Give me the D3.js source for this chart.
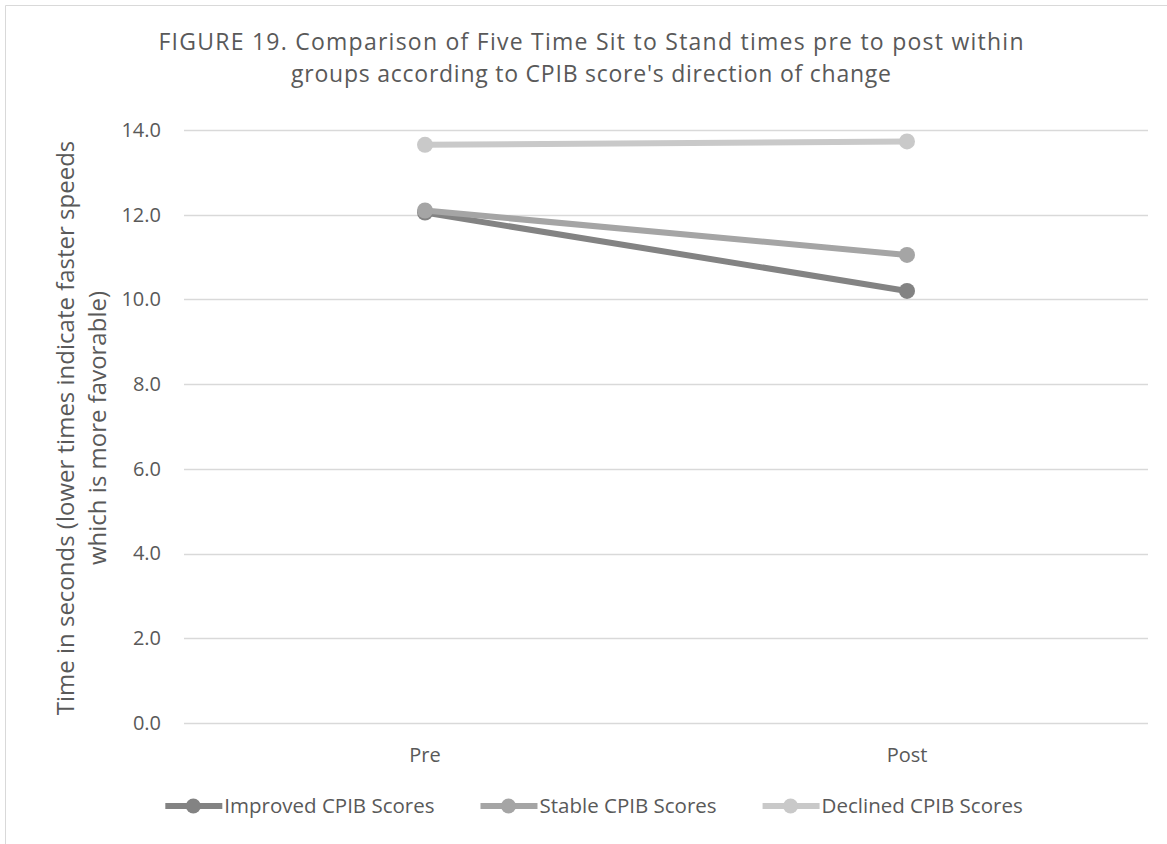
<!DOCTYPE html>
<html lang="en">
<head>
    <meta charset="UTF-8">
    <title>Figure 19</title>
    <script src="https://cdn.jsdelivr.net/npm/d3@7"></script>
    <style>
        body { margin: 0; background: #fff; }
        text { font-family: "Open Sans", "Noto Sans", sans-serif; }
    </style>
</head>
<body>
<svg width="1167" height="844"></svg>
<script>

    // chart data
    var categories = ["Pre", "Post"];
    var seriesNames = ["Improved CPIB Scores", "Stable CPIB Scores", "Declined CPIB Scores"];
    var improved = [12.05, 10.2];
    var stable = [12.1, 11.05];
    var declined = [13.65, 13.73];
    var yTicks = [0, 2, 4, 6, 8, 10, 12, 14];
    var colors = ["#838383", "#a5a5a5", "#c9c9c9"];

    var series = [improved, stable, declined];

    var svg = d3.select("svg");

    // chart frame (only top and left edges show)
    svg.append("path")
        .attr("d", "M5.5,844V5.5H1167")
        .attr("fill", "none")
        .attr("stroke", "#d9d9d9")
        .attr("stroke-width", 1);

    var x = d3.scaleBand().domain(categories).range([184, 1148]);
    var y = d3.scaleLinear().domain([0, 14]).range([723, 130]);

    // gridlines
    svg.append("g")
        .selectAll("line")
        .data(yTicks)
        .enter().append("line")
        .attr("x1", 184)
        .attr("x2", 1148)
        .attr("y1", function (d) { return Math.round(y(d)) + 0.5; })
        .attr("y2", function (d) { return Math.round(y(d)) + 0.5; })
        .attr("stroke", "#d9d9d9")
        .attr("stroke-width", 1.3);

    // y axis labels
    var yAxis = d3.axisLeft(y).tickValues(yTicks).tickFormat(d3.format(".1f")).tickSize(0).tickPadding(0);
    var yg = svg.append("g").attr("transform", "translate(161,0)").call(yAxis);
    yg.select(".domain").remove();
    yg.selectAll("text")
        .attr("fill", "#595959")
        .style("font-size", "20px");

    // x axis labels
    var xAxis = d3.axisBottom(x).tickSize(0).tickPadding(0);
    var xg = svg.append("g").attr("transform", "translate(0,748)").call(xAxis);
    xg.select(".domain").remove();
    xg.selectAll("text")
        .attr("fill", "#595959")
        .style("font-size", "20px");

    var line = d3.line()
        .x(function (d, i) { return x(categories[i]) + x.bandwidth() / 2; })
        .y(function (d) { return y(d); });

    series.forEach(function (s, k) {
        var g = svg.append("g");
        g.append("path")
            .datum(s)
            .attr("d", line)
            .attr("fill", "none")
            .attr("stroke", colors[k])
            .attr("stroke-width", 6)
            .attr("stroke-linecap", "round");
        g.selectAll("circle")
            .data(s)
            .enter().append("circle")
            .attr("cx", function (d, i) { return x(categories[i]) + x.bandwidth() / 2; })
            .attr("cy", function (d) { return y(d); })
            .attr("r", 8)
            .attr("fill", colors[k]);
    });

    // title, two separate lines so they don't collide
    svg.append("text")
        .attr("x", 591).attr("y", 50)
        .attr("text-anchor", "middle")
        .attr("fill", "#595959")
        .style("font-size", "23px")
        .attr("textLength", 865)
        .attr("lengthAdjust", "spacing")
        .text("FIGURE 19. Comparison of Five Time Sit to Stand times pre to post within");
    svg.append("text")
        .attr("x", 591).attr("y", 81.5)
        .attr("text-anchor", "middle")
        .attr("fill", "#595959")
        .style("font-size", "23px")
        .attr("textLength", 600)
        .attr("lengthAdjust", "spacing")
        .text("groups according to CPIB score's direction of change");

    // y axis title
    var yt = svg.append("text")
        .attr("transform", "translate(0,428) rotate(-90)")
        .attr("text-anchor", "middle")
        .attr("fill", "#595959")
        .style("font-size", "24px");
    yt.append("tspan").attr("x", 0).attr("y", 74)
        .text("Time in seconds (lower times indicate faster speeds");
    yt.append("tspan").attr("x", 0).attr("y", 106)
        .text("which is more favorable)");

    // legend, laid out from measured text widths
    var legend = svg.append("g")
        .selectAll("g")
        .data(seriesNames)
        .enter().append("g");
    legend.append("line")
        .attr("x1", 0).attr("x2", 57)
        .attr("stroke", function (d, i) { return colors[i]; })
        .attr("stroke-width", 6);
    legend.append("circle")
        .attr("cx", 28)
        .attr("r", 7.5)
        .attr("fill", function (d, i) { return colors[i]; });
    legend.append("text")
        .attr("x", 59)
        .attr("y", 7)
        .attr("fill", "#595959")
        .style("font-size", "20.5px")
        .text(function (d) { return d; });

    var widths = [];
    legend.select("text").each(function () { widths.push(59 + this.getComputedTextLength()); });
    var total = d3.sum(widths) + 46 * (widths.length - 1);
    var lx = 594 - total / 2;
    legend.attr("transform", function (d, i) {
        var t = "translate(" + lx + ",806)";
        lx += widths[i] + 46;
        return t;
    });

</script>
</body>
</html>
